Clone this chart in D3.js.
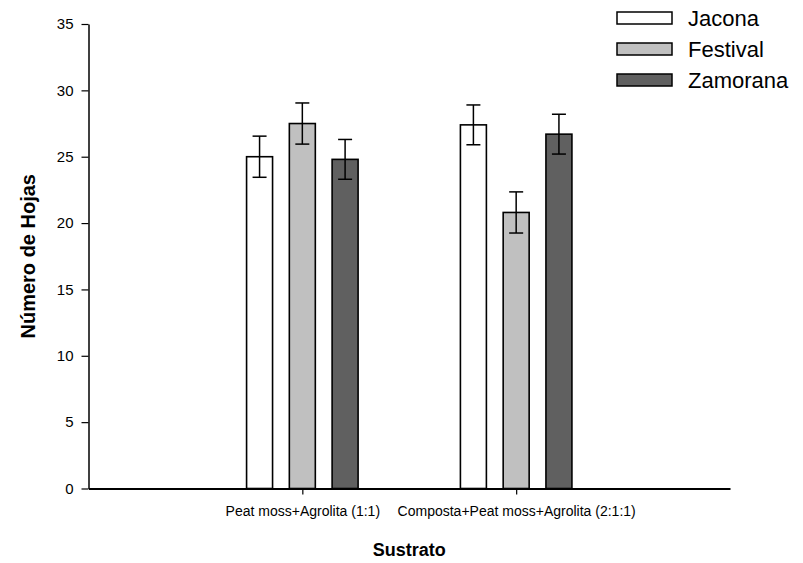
<!DOCTYPE html>
<html>
<head>
<meta charset="utf-8">
<script src="https://cdn.jsdelivr.net/npm/d3@7"></script>
<style>
  html, body { margin: 0; padding: 0; background: #fff; }
  svg { display: block; font-family: "Liberation Sans", Arial, sans-serif; }
</style>
</head>
<body>
<svg id="chart" width="803" height="563"></svg>
<script>
// Substrate categories (x axis)
const categories = ["Peat moss+Agrolita (1:1)", "Composta+Peat moss+Agrolita (2:1:1)"];
// Strawberry varieties
const seriesNames = ["Jacona", "Festival", "Zamorana"];
// Mean leaf count per variety, one value per substrate
const jacona   = [25.0, 27.4];
const festival = [27.5, 20.8];
const zamorana = [24.8, 26.7];
// Standard error per bar
const jaconaErr   = [1.55, 1.5];
const festivalErr = [1.55, 1.55];
const zamoranaErr = [1.5, 1.5];
// Y axis ticks
const yTicks = [0, 5, 10, 15, 20, 25, 30, 35];

const fills = ["#ffffff", "#c0c0c0", "#606060"];
const values = [jacona, festival, zamorana];
const errs = [jaconaErr, festivalErr, zamoranaErr];

const svg = d3.select("#chart");
const plotLeft = 88.5, plotRight = 730, plotTop = 24, plotBottom = 488.5;

// Categories sit at positions 1 and 2 on a 0..3 axis
const x = d3.scaleLinear().domain([0, 3]).range([plotLeft, plotRight]);
const y = d3.scaleLinear().domain([0, 35]).range([plotBottom, plotTop]);

const barOffset = 0.2;   // distance between bars inside a group (axis units)
const barWidth = 0.1215; // bar width (axis units)

const bars = [];
seriesNames.forEach((s, si) => {
  categories.forEach((c, ci) => {
    bars.push({ s, si, ci, v: values[si][ci], e: errs[si][ci] });
  });
});

const unit = x(1) - x(0);
const bw = barWidth * unit;

// Bars
svg.append("g").selectAll("rect").data(bars).join("rect")
  .attr("x", d => x(d.ci + 1 + (d.si - 1) * barOffset) - bw / 2)
  .attr("y", d => y(d.v))
  .attr("width", bw)
  .attr("height", d => y(0) - y(d.v))
  .attr("fill", d => fills[d.si])
  .attr("stroke", "#000")
  .attr("stroke-width", 1.6);

// Error bars
const eg = svg.append("g").attr("stroke", "#000").attr("stroke-width", 1.5);
const capHalf = 7;
bars.forEach(d => {
  const cx = x(d.ci + 1 + (d.si - 1) * barOffset);
  eg.append("line").attr("x1", cx).attr("x2", cx).attr("y1", y(d.v - d.e)).attr("y2", y(d.v + d.e));
  eg.append("line").attr("x1", cx - capHalf).attr("x2", cx + capHalf).attr("y1", y(d.v + d.e)).attr("y2", y(d.v + d.e));
  eg.append("line").attr("x1", cx - capHalf).attr("x2", cx + capHalf).attr("y1", y(d.v - d.e)).attr("y2", y(d.v - d.e));
});

// Y axis
const yAxis = svg.append("g")
  .attr("transform", `translate(${plotLeft},0)`)
  .call(d3.axisLeft(y).tickValues(yTicks).tickSize(7).tickPadding(8).tickSizeOuter(0));
yAxis.select(".domain").attr("stroke", "#000").attr("stroke-width", 1.5);
yAxis.selectAll(".tick line").attr("stroke", "#000").attr("stroke-width", 1.2);
yAxis.selectAll(".tick text").attr("font-size", 15).attr("fill", "#000")
  .attr("font-family", "'Liberation Sans', Arial, sans-serif");

// X axis
const xAxis = svg.append("g")
  .attr("transform", `translate(0,${plotBottom})`)
  .call(d3.axisBottom(x).tickValues([1, 2]).tickFormat(d => categories[d - 1])
    .tickSize(6).tickPadding(12).tickSizeOuter(0));
xAxis.select(".domain").attr("stroke", "#000").attr("stroke-width", 1.8);
xAxis.selectAll(".tick line").attr("stroke", "#000").attr("stroke-width", 1.2);
xAxis.selectAll(".tick text").attr("font-size", 14).attr("fill", "#000")
  .attr("font-family", "'Liberation Sans', Arial, sans-serif");

// Axis titles
svg.append("text")
  .attr("x", x(1.5)).attr("y", 556)
  .attr("text-anchor", "middle")
  .attr("font-size", 18).attr("font-weight", "bold")
  .text("Sustrato");

svg.append("text")
  .attr("transform", `translate(35,${(plotTop + plotBottom) / 2}) rotate(-90)`)
  .attr("text-anchor", "middle")
  .attr("font-size", 20).attr("font-weight", "bold")
  .text("Número de Hojas");

// Legend
const legend = svg.append("g").attr("transform", "translate(617,12)");
seriesNames.forEach((s, i) => {
  const g = legend.append("g").attr("transform", `translate(0,${i * 31})`);
  g.append("rect").attr("width", 55).attr("height", 12)
    .attr("fill", fills[i]).attr("stroke", "#000").attr("stroke-width", 1.5);
  g.append("text").attr("x", 71).attr("y", 14)
    .attr("font-size", 22).attr("fill", "#000").text(s);
});
</script>
</body>
</html>
